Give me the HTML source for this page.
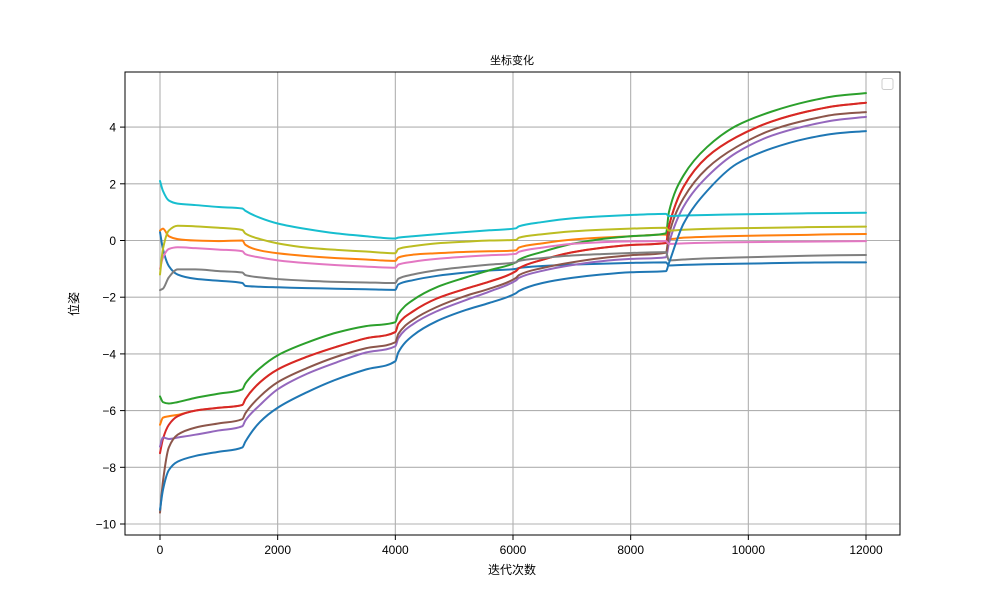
<!DOCTYPE html>
<html><head><meta charset="utf-8"><style>
body{margin:0;background:#fff}
svg{display:block;font-family:"Liberation Sans","Noto Sans CJK SC",sans-serif}
</style></head><body>
<svg id="chart" width="1000" height="600" viewBox="0 0 1000 600">
<rect x="0" y="0" width="1000" height="600" fill="#fff"/>
<g id="grid"></g>
<g id="series"></g>
<rect x="125" y="72" width="775" height="463" fill="none" stroke="#000" stroke-width="1"/>
<g id="ticks"></g>
<text x="512" y="64" font-size="11" text-anchor="middle">坐标变化</text>
<text x="512" y="574" font-size="12" text-anchor="middle">迭代次数</text>
<text x="78" y="304" font-size="12" text-anchor="middle" transform="rotate(-90 78 304)">位姿</text>
<rect x="882" y="78.5" width="11" height="11" rx="2" fill="#fff" stroke="#ccc" stroke-width="1"/>
</svg>
<script>
const iters=[0,50,150,300,600,1000,1400,1450,1700,2000,2500,3000,3500,4000,4050,4300,4700,5200,5600,6050,6100,6500,7000,7500,8000,8600,8650,8900,9300,9800,10400,11000,11500,12000];
const xTicks=[0,2000,4000,6000,8000,10000,12000];
const yTicks=[-10,-8,-6,-4,-2,0,2,4];
const seriesNames=["upper-blue","upper-orange","lower-green","lower-orange","lower-red","lower-purple","lower-brown","pink","gray","olive","cyan","lower-blue"];
const seriesColors=["#1f77b4","#ff7f0e","#2ca02c","#ff7f0e","#d62728","#9467bd","#8c564b","#e377c2","#7f7f7f","#bcbd22","#17becf","#1f77b4"];
const upperBlue=[0.3,-0.3,-0.9,-1.2,-1.35,-1.42,-1.5,-1.6,-1.63,-1.65,-1.68,-1.7,-1.72,-1.74,-1.55,-1.4,-1.25,-1.13,-1.06,-1.0,-0.97,-0.9,-0.85,-0.82,-0.79,-0.77,-0.88,-0.86,-0.84,-0.82,-0.8,-0.78,-0.77,-0.77];
const upperOrange=[0.35,0.42,0.15,0.05,0.0,-0.02,0.0,-0.15,-0.35,-0.45,-0.55,-0.62,-0.67,-0.72,-0.6,-0.5,-0.45,-0.4,-0.38,-0.35,-0.25,-0.1,0.03,0.1,0.15,0.21,0.05,0.1,0.13,0.16,0.18,0.2,0.22,0.23];
const lowerGreen=[-5.5,-5.7,-5.75,-5.7,-5.55,-5.4,-5.25,-5.05,-4.5,-4.05,-3.6,-3.25,-3.02,-2.88,-2.6,-2.1,-1.65,-1.3,-1.05,-0.77,-0.68,-0.4,-0.12,0.05,0.15,0.25,1.0,2.3,3.3,4.05,4.55,4.9,5.1,5.2];
const lowerOrange=[-6.5,-6.25,-6.2,-6.15,-6.0,-5.9,-5.8,-5.6,-5.0,-4.55,-4.1,-3.75,-3.45,-3.23,-2.95,-2.5,-2.05,-1.7,-1.45,-1.08,-0.98,-0.68,-0.42,-0.26,-0.16,-0.09,0.5,1.9,2.95,3.65,4.2,4.55,4.75,4.86];
const lowerRed=[-7.5,-7.0,-6.5,-6.2,-6.0,-5.9,-5.8,-5.6,-5.0,-4.55,-4.1,-3.75,-3.45,-3.23,-2.95,-2.5,-2.05,-1.7,-1.45,-1.08,-0.98,-0.68,-0.42,-0.26,-0.16,-0.09,0.5,1.9,2.95,3.65,4.2,4.55,4.75,4.86];
const lowerPurple=[-7.27,-6.95,-7.0,-6.95,-6.85,-6.7,-6.55,-6.35,-5.8,-5.25,-4.7,-4.3,-3.95,-3.73,-3.45,-2.95,-2.5,-2.1,-1.8,-1.41,-1.32,-1.07,-0.87,-0.73,-0.65,-0.59,-0.1,1.2,2.25,3.1,3.7,4.05,4.25,4.36];
const lowerBrown=[-9.6,-8.5,-7.3,-6.85,-6.6,-6.45,-6.3,-6.1,-5.5,-5.0,-4.5,-4.1,-3.8,-3.59,-3.3,-2.8,-2.35,-1.95,-1.7,-1.32,-1.22,-0.97,-0.77,-0.62,-0.52,-0.43,0.2,1.5,2.55,3.3,3.9,4.25,4.45,4.53];
const pink=[-1.0,-0.6,-0.3,-0.24,-0.27,-0.32,-0.38,-0.48,-0.6,-0.7,-0.8,-0.87,-0.92,-0.96,-0.85,-0.75,-0.65,-0.57,-0.52,-0.47,-0.4,-0.25,-0.12,-0.06,-0.03,-0.02,-0.12,-0.1,-0.08,-0.06,-0.05,-0.04,-0.03,-0.02];
const gray=[-1.75,-1.7,-1.3,-1.02,-1.02,-1.08,-1.13,-1.22,-1.3,-1.36,-1.42,-1.46,-1.48,-1.5,-1.35,-1.2,-1.05,-0.93,-0.85,-0.77,-0.72,-0.62,-0.53,-0.48,-0.44,-0.41,-0.7,-0.67,-0.63,-0.6,-0.57,-0.54,-0.52,-0.51];
const olive=[-1.2,-0.3,0.35,0.52,0.5,0.45,0.37,0.25,0.05,-0.1,-0.25,-0.33,-0.39,-0.45,-0.3,-0.2,-0.1,-0.04,0,0.02,0.1,0.22,0.32,0.38,0.42,0.45,0.35,0.38,0.41,0.43,0.45,0.47,0.48,0.49];
const cyan=[2.1,1.75,1.41,1.3,1.25,1.18,1.13,1.05,0.8,0.6,0.4,0.25,0.15,0.07,0.1,0.15,0.22,0.3,0.36,0.43,0.5,0.65,0.78,0.85,0.9,0.94,0.86,0.88,0.9,0.92,0.94,0.96,0.97,0.98];
const lowerBlue=[-9.5,-8.8,-8.1,-7.8,-7.6,-7.45,-7.3,-7.1,-6.4,-5.9,-5.35,-4.9,-4.55,-4.26,-3.95,-3.35,-2.85,-2.45,-2.2,-1.86,-1.78,-1.5,-1.32,-1.2,-1.12,-1.08,-0.8,0.6,1.75,2.7,3.25,3.6,3.78,3.86];
const seriesValues=[upperBlue,upperOrange,lowerGreen,lowerOrange,lowerRed,lowerPurple,lowerBrown,pink,gray,olive,cyan,lowerBlue];

const NS="http://www.w3.org/2000/svg";
function xScale(v){return 160+v*(866-160)/12000;}
function yScale(v){return 240.5-v*28.35;}
const grid=document.getElementById('grid'),ticks=document.getElementById('ticks'),sg=document.getElementById('series');
function mk(tag,attrs,parent){const e=document.createElementNS(NS,tag);for(const k in attrs)e.setAttribute(k,attrs[k]);parent.appendChild(e);return e;}
function monoPath(xs,ys){
  const n=xs.length,d=[],m=new Array(n).fill(0);
  for(let i=0;i<n-1;i++)d.push((ys[i+1]-ys[i])/(xs[i+1]-xs[i]));
  m[0]=d[0];m[n-1]=d[n-2];
  for(let i=1;i<n-1;i++){
    if(d[i-1]*d[i]<=0)m[i]=0;
    else{const w1=2*(xs[i+1]-xs[i])+(xs[i]-xs[i-1]),w2=(xs[i+1]-xs[i])+2*(xs[i]-xs[i-1]);m[i]=(w1+w2)/(w1/d[i-1]+w2/d[i]);}
  }
  let p='M'+xs[0].toFixed(2)+','+ys[0].toFixed(2);
  for(let i=0;i<n-1;i++){
    const h=xs[i+1]-xs[i];
    p+=' C'+(xs[i]+h/3).toFixed(2)+','+(ys[i]+m[i]*h/3).toFixed(2)+' '+(xs[i+1]-h/3).toFixed(2)+','+(ys[i+1]-m[i+1]*h/3).toFixed(2)+' '+xs[i+1].toFixed(2)+','+ys[i+1].toFixed(2);
  }
  return p;
}
xTicks.forEach(t=>{
  const x=xScale(t);
  const g=mk('line',{x1:x,x2:x,y1:72,y2:535,stroke:'#b0b0b0','stroke-width':1.1},grid);
  
  
  const tk=mk('line',{x1:x,x2:x,y1:535,y2:540,stroke:'#000','stroke-width':1},ticks);
  
  
  const lb=mk('text',{x:x,y:554,'font-size':12,'text-anchor':'middle'},ticks);
  lb.textContent=t;
  
  
});
yTicks.forEach(t=>{
  const y=yScale(t);
  const g=mk('line',{x1:125,x2:900,y1:y,y2:y,stroke:'#b0b0b0','stroke-width':1.1},grid);
  
  
  const tk=mk('line',{x1:120,x2:125,y1:y,y2:y,stroke:'#000','stroke-width':1},ticks);
  
  
  const lb=mk('text',{x:116,y:y+4.5,'font-size':12,'text-anchor':'end'},ticks);
  lb.textContent=t<0?'\u2212'+(-t):String(t);
  
  
});
const xsPix=iters.map(xScale);
seriesValues.forEach((vals,i)=>{
  const pl=mk('path',{d:monoPath(xsPix,vals.map(yScale)),fill:'none',stroke:seriesColors[i],'stroke-width':2,'stroke-linejoin':'round','stroke-linecap':'round'},sg);
  
  
});
</script>
</body></html>
